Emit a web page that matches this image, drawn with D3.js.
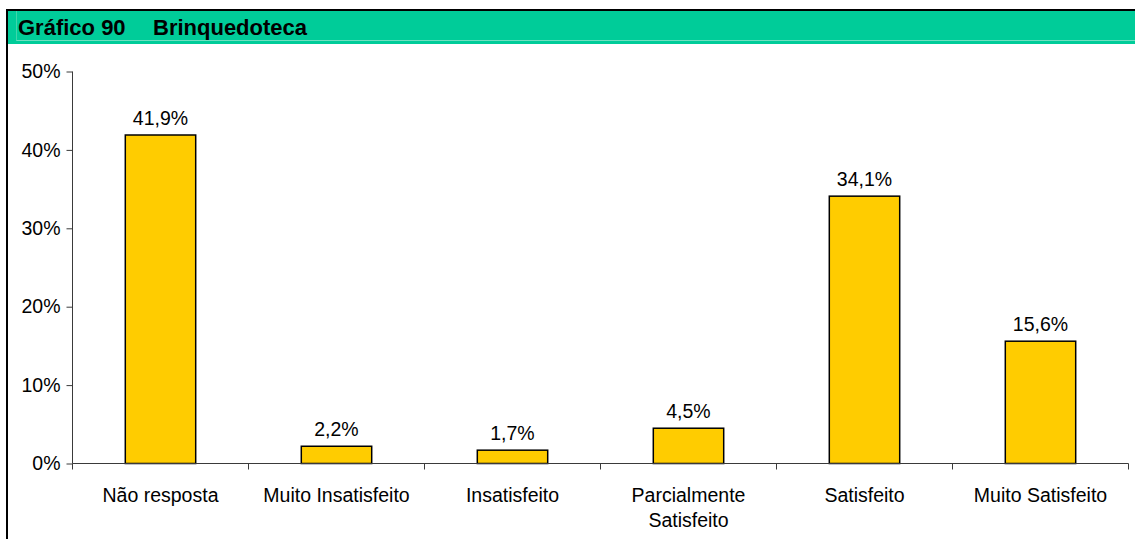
<!DOCTYPE html>
<html>
<head>
<meta charset="utf-8">
<script src="https://cdn.jsdelivr.net/npm/d3@7"></script>
<style>
  html, body { margin: 0; padding: 0; background: #fff; }
  svg { display: block; }
  text { font-family: "Liberation Sans", Arial, sans-serif; }
</style>
</head>
<body>
<script>
const categories = ["Não resposta", "Muito Insatisfeito", "Insatisfeito", "Parcialmente Satisfeito", "Satisfeito", "Muito Satisfeito"];
const categoryLines = [["Não resposta"], ["Muito Insatisfeito"], ["Insatisfeito"], ["Parcialmente", "Satisfeito"], ["Satisfeito"], ["Muito Satisfeito"]];
const values = [41.9, 2.2, 1.7, 4.5, 34.1, 15.6];
const valueLabels = ["41,9%", "2,2%", "1,7%", "4,5%", "34,1%", "15,6%"];
const yTicks = [0, 10, 20, 30, 40, 50];
const titleNumber = "Gráfico 90";
const titleText = "Brinquedoteca";

const W = 1135, H = 539;
const FS = 19.5;
const svg = d3.select("body").append("svg").attr("width", W).attr("height", H);

// Header band
svg.append("rect").attr("x", 7).attr("y", 10).attr("width", W - 7).attr("height", 34).attr("fill", "#00CC99");
svg.append("line").attr("x1", 16).attr("x2", W).attr("y1", 40.5).attr("y2", 40.5).attr("stroke", "#6fe0c0").attr("stroke-width", 1);
svg.append("line").attr("x1", 16.5).attr("x2", 16.5).attr("y1", 11).attr("y2", 40.5).attr("stroke", "#3fd6ab").attr("stroke-width", 1);
// Black frame lines
svg.append("line").attr("x1", 6).attr("x2", W).attr("y1", 10).attr("y2", 10).attr("stroke", "#000").attr("stroke-width", 2);
svg.append("line").attr("x1", 7).attr("x2", 7).attr("y1", 9).attr("y2", H).attr("stroke", "#000").attr("stroke-width", 2);

svg.append("text").attr("x", 18).attr("y", 35).attr("font-size", 22).attr("font-weight", "bold").attr("fill", "#000").text(titleNumber);
svg.append("text").attr("x", 153).attr("y", 35).attr("font-size", 22).attr("font-weight", "bold").attr("fill", "#000").text(titleText);

// Chart area
const x0 = 72.5, x1 = 1128.5, yTop = 71.5, yBot = 463.5;
const x = d3.scaleBand().domain(categories).range([x0, x1]).paddingInner(0.6).paddingOuter(0.3);
const y = d3.scaleLinear().domain([0, 50]).range([yBot, yTop]);

const axisColor = "#3a3a3a";

// Y axis
const yAxis = svg.append("g").attr("transform", `translate(${x0},0)`)
  .call(d3.axisLeft(y).tickValues(yTicks).tickSize(6).tickPadding(6).tickFormat(d => d + "%"));
yAxis.select(".domain").attr("stroke", axisColor).attr("d", `M0,${yTop}V${yBot}`);
yAxis.selectAll(".tick line").attr("stroke", axisColor);
yAxis.selectAll(".tick text").attr("font-size", FS).attr("fill", "#000").attr("font-family", "Liberation Sans, Arial, sans-serif");

// Bars
svg.append("g").selectAll("rect").data(values).join("rect")
  .attr("x", (d, i) => x(categories[i]))
  .attr("y", d => y(d))
  .attr("width", x.bandwidth())
  .attr("height", d => yBot - y(d))
  .attr("fill", "#FFCC00")
  .attr("stroke", "#000")
  .attr("stroke-width", 1.5);

// X axis
const step = (x1 - x0) / categories.length;
const xAxisG = svg.append("g");
xAxisG.append("line").attr("x1", x0).attr("x2", x1).attr("y1", yBot).attr("y2", yBot).attr("stroke", axisColor);
const boundaries = d3.range(categories.length + 1).map(i => x0 + i * step);
xAxisG.selectAll("line.tk").data(boundaries).join("line").attr("class", "tk")
  .attr("x1", d => d).attr("x2", d => d).attr("y1", yBot).attr("y2", yBot + 6).attr("stroke", axisColor);

// Category labels
const catG = svg.append("g");
categories.forEach((c, i) => {
  const cx = x(c) + x.bandwidth() / 2;
  const t = catG.append("text").attr("text-anchor", "middle").attr("font-size", FS).attr("fill", "#000");
  categoryLines[i].forEach((line, j) => {
    t.append("tspan").attr("x", cx).attr("y", 502 + j * 25).text(line);
  });
});

// Value labels
svg.append("g").selectAll("text").data(values).join("text")
  .attr("x", (d, i) => x(categories[i]) + x.bandwidth() / 2)
  .attr("y", d => y(d) - 10)
  .attr("text-anchor", "middle")
  .attr("font-size", FS)
  .attr("fill", "#000")
  .text((d, i) => valueLabels[i]);
</script>
</body>
</html>
